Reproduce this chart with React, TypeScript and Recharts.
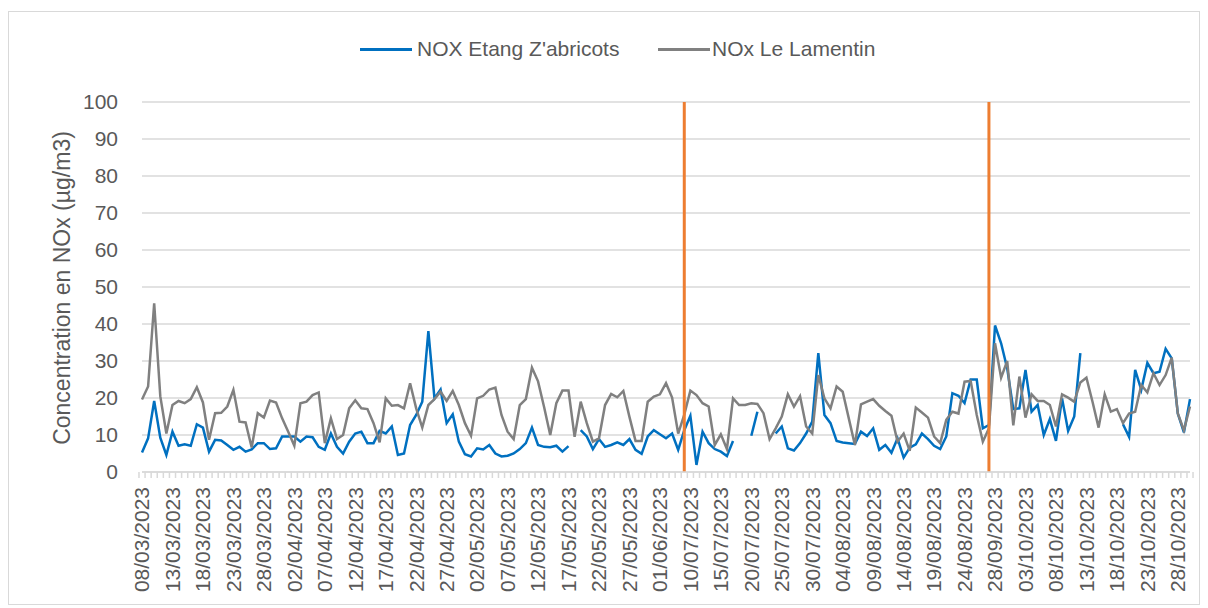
import React from 'react';
import { LineChart, Line, XAxis, YAxis, CartesianGrid, ReferenceLine, Legend } from 'recharts';

// measurement periods: first day and number of days
const dateRanges: [string, number][] = [
  ['2023-03-08', 89],
  ['2023-07-09', 50],
  ['2023-09-27', 34],
];

// first day of each new measurement period (orange markers)
const periodStarts = ['09/07/2023', '27/09/2023'];

const yTicks = [0, 10, 20, 30, 40, 50, 60, 70, 80, 90, 100];

// NOX Etang Z'abricots (µg/m3)
const etang: (number | null)[] = [
  5.3, 9.1, 19.2, 9.3, 4.6, 10.9, 7.1, 7.5, 7.1, 12.9,
  12.0, 5.5, 8.7, 8.5, 7.3, 6.0, 6.8, 5.5, 6.1, 7.8,
  7.8, 6.2, 6.4, 9.6, 9.6, 9.6, 8.2, 9.6, 9.4, 6.8,
  6.0, 10.4, 6.8, 5.0, 8.2, 10.4, 10.9, 7.8, 7.8, 11.1,
  10.4, 12.3, 4.6, 5.0, 12.7, 15.4, 19.0, 38.1, 19.9, 22.3,
  13.2, 15.6, 8.2, 4.8, 4.2, 6.4, 6.1, 7.3, 5.0, 4.2,
  4.4, 5.0, 6.2, 7.8, 12.0, 7.3, 6.8, 6.7, 7.1, 5.5,
  7.0, null, 11.3, 9.6, 6.2, 8.9, 6.8, 7.3, 8.0, 7.3,
  8.9, 6.0, 4.9, 9.6, 11.3, 10.2, 9.1, 10.4, 6.0, 11.3,
  15.2, 1.9, 10.9, 7.8, 6.2, 5.5, 4.3, 8.4, null, null,
  9.8, 16.3, null, null, 10.4, 12.3, 6.4, 5.8, 7.8, 10.4,
  13.6, 32.1, 15.4, 13.2, 8.4, 8.0, 7.8, 7.6, 10.9, 9.7,
  11.8, 6.0, 7.3, 5.2, 9.1, 3.9, 6.6, 7.5, 10.4, 8.9,
  7.1, 6.2, 9.6, 21.3, 20.6, 18.6, 25.0, 25.0, 11.8, 12.7,
  39.6, 34.8, 28.0, 17.0, 17.2, 27.6, 16.3, 18.1, 10.0, 14.3,
  8.4, 19.9, 11.1, 15.0, 32.1, null, null, null, null, null,
  null, 12.9, 9.5, 27.6, 22.2, 29.5, 26.7, 27.1, 33.3, 30.7,
  15.8, 10.7, 19.7,
];

// NOx Le Lamentin (µg/m3)
const lamentin: (number | null)[] = [
  19.6, 23.1, 45.6, 20.5, 10.4, 18.1, 19.2, 18.6, 19.7, 22.9,
  18.8, 8.7, 15.9, 16.0, 17.7, 22.2, 13.6, 13.4, 6.6, 15.9,
  14.7, 19.3, 18.8, 14.5, 10.9, 7.1, 18.6, 19.0, 20.8, 21.5,
  7.8, 14.5, 8.9, 10.0, 17.2, 19.4, 17.2, 17.0, 13.2, 8.0,
  19.9, 17.9, 18.1, 17.2, 24.0, 17.2, 12.0, 18.1, 19.7, 21.7,
  19.2, 21.9, 18.1, 13.2, 9.8, 19.9, 20.6, 22.3, 22.8, 15.4,
  10.9, 8.9, 18.1, 19.7, 28.2, 24.5, 17.5, 10.0, 18.6, 22.0,
  22.0, 9.5, 19.0, 13.2, 8.2, 9.1, 18.1, 21.1, 20.2, 21.9,
  14.9, 8.4, 8.4, 19.0, 20.4, 21.0, 24.0, 20.1, 10.4, 15.5,
  22.0, 20.8, 18.6, 17.7, 7.3, 10.2, 6.2, 19.9, 18.1, 18.1,
  18.6, 18.4, 15.9, 8.9, 11.8, 15.0, 21.0, 17.7, 20.5, 12.3,
  10.4, 26.2, 19.9, 17.2, 23.1, 21.7, 14.5, 7.3, 18.3, 19.0,
  19.7, 17.9, 16.5, 15.2, 8.2, 10.4, 5.7, 17.4, 16.1, 14.7,
  9.6, 7.8, 14.1, 16.3, 15.8, 24.4, 24.6, 15.4, 8.2, 11.8,
  34.8, 25.5, 30.0, 12.6, 25.8, 14.7, 21.0, 19.2, 19.2, 18.1,
  12.3, 21.0, 20.1, 19.0, 24.2, 25.5, 19.0, 12.0, 21.0, 16.3,
  17.0, 13.2, 15.8, 16.3, 23.5, 21.5, 26.7, 23.5, 26.2, 30.9,
  15.8, 11.3, 17.7,
];

const pad = (n: number) => String(n).padStart(2, '0');
const dates: string[] = dateRanges.flatMap(([start, count]) => {
  const t0 = new Date(start + 'T00:00:00Z').getTime();
  return Array.from({ length: count }, (_, k) => {
    const d = new Date(t0 + k * 86400000);
    return `${pad(d.getUTCDate())}/${pad(d.getUTCMonth() + 1)}/${d.getUTCFullYear()}`;
  });
});

const data = dates.map((date, i) => ({ date, etang: etang[i], lamentin: lamentin[i] }));

const W = 1190;
const H = 592;
const LEFT = 133;
const RIGHT = 9;
const BAND = (W - LEFT - RIGHT) / dates.length;
const FONT = '"Liberation Sans", Arial, sans-serif';
const TEXT = '#595959';
const GRID = '#d9d9d9';

const XTick = (props: any) => {
  const { x, y, index, payload } = props;
  const half = BAND / 2;
  const ty = y + 15;
  return (
    <g>
      <line x1={x - half} x2={x - half} y1={y} y2={y + 6} stroke={GRID} strokeWidth={1.5} />
      {index === dates.length - 1 && (
        <line x1={x + half} x2={x + half} y1={y} y2={y + 6} stroke={GRID} strokeWidth={1.5} />
      )}
      {index % 5 === 0 && (
        <text
          x={x}
          y={ty}
          dy="0.35em"
          textAnchor="end"
          transform={`rotate(-90, ${x}, ${ty})`}
          fill={TEXT}
          fontSize={21}
          fontFamily={FONT}
        >
          {payload.value}
        </text>
      )}
    </g>
  );
};

const legendPos = [
  { line: 351, text: 408 },
  { line: 649, text: 703 },
];

const LegendBox = (props: any) => {
  const { payload = [] } = props;
  return (
    <div style={{ position: 'relative', height: 70, fontFamily: FONT, fontSize: 21, color: TEXT }}>
      {payload.map((p: any, i: number) => (
        <React.Fragment key={p.value}>
          <div
            style={{
              position: 'absolute',
              left: legendPos[i].line,
              top: 16,
              width: 52,
              height: 3,
              background: p.color,
            }}
          />
          <span style={{ position: 'absolute', left: legendPos[i].text, top: 3, lineHeight: '28px', whiteSpace: 'nowrap' }}>
            {p.value}
          </span>
        </React.Fragment>
      ))}
    </div>
  );
};

const YTitle = () => (
  <text
    x={53}
    y={276}
    dy="0.35em"
    textAnchor="middle"
    transform="rotate(-90, 53, 276)"
    fill={TEXT}
    fontSize={23}
    fontFamily={FONT}
  >
    Concentration en NOx (µg/m3)
  </text>
);

export default function App() {
  return (
    <div
      style={{
        position: 'absolute',
        left: 8,
        top: 11,
        width: W,
        height: H,
        border: `1px solid ${GRID}`,
        background: '#fff',
      }}
    >
      <LineChart width={W} height={H} data={data} margin={{ top: 20, right: RIGHT, left: 0, bottom: 0 }}>
        <CartesianGrid vertical={false} stroke={GRID} strokeWidth={1.5} />
        <XAxis
          dataKey="date"
          interval={0}
          height={H - 460}
          tickSize={0}
          tickMargin={0}
          tickLine={false}
          axisLine={{ stroke: GRID, strokeWidth: 1.5 }}
          tick={<XTick />}
        />
        <YAxis
          width={LEFT}
          domain={[0, 100]}
          ticks={yTicks}
          axisLine={false}
          tickLine={false}
          tickSize={0}
          tickMargin={24}
          tick={{ fill: TEXT, fontSize: 21, fontFamily: FONT }}
          label={{ content: <YTitle /> }}
        />
        <Legend verticalAlign="top" wrapperStyle={{ left: 0, width: W }} content={<LegendBox />} />
        <Line
          name="NOX Etang Z'abricots"
          dataKey="etang"
          stroke="#0070C0"
          strokeWidth={2.5}
          dot={false}
          activeDot={false}
          isAnimationActive={false}
        />
        <Line
          name="NOx Le Lamentin"
          dataKey="lamentin"
          stroke="#808080"
          strokeWidth={2.5}
          dot={false}
          activeDot={false}
          isAnimationActive={false}
        />
        {periodStarts.map((d) => (
          <ReferenceLine key={d} x={d} stroke="#ED7D31" strokeWidth={3} />
        ))}
      </LineChart>
    </div>
  );
}
